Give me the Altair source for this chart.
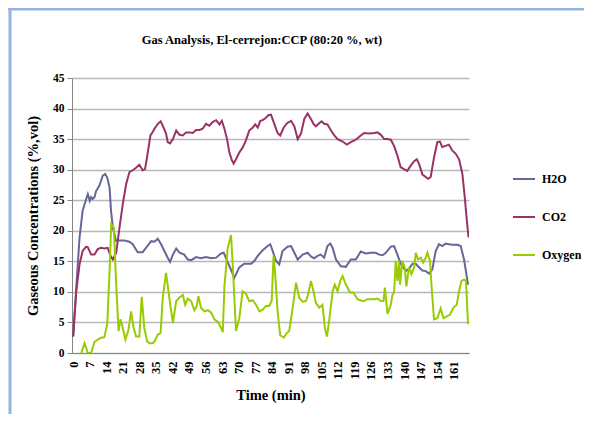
import altair as alt
import pandas as pd

chart_title = "Gas Analysis, El-cerrejon:CCP (80:20 %, wt)"
series_names = ["H2O", "CO2", "Oxygen"]
series_colors = ["#666699", "#993366", "#99CC00"]

x_ticks = list(range(0, 162, 7))
y_ticks = [0, 5, 10, 15, 20, 25, 30, 35, 40, 45]

h2o_t = [0, 1.3, 2.7, 4, 5.5, 6.2, 7, 7.6, 8.3, 9, 9.7, 11.1, 12.5, 13.5, 14.4, 15.4, 16, 16.8,
         18.2, 19.6, 21.7, 23.8, 25.2, 27.3, 29.4, 30.8, 33, 34.4, 35.8, 37.2, 38.6, 40, 41, 42.2,
         43.6, 45, 47, 48.5, 50, 52, 54, 56.2, 58.4, 60.5, 62.6, 63.7, 65.1, 66.8, 68.2, 70.3,
         72.4, 75.3, 76.7, 78.1, 80.2, 82.3, 83.4, 84.4, 85.8, 87.2, 88.6, 90.7, 92.2, 93.6, 95,
         97.1, 99.2, 100.6, 102, 103.4, 104.8, 106.2, 107.6, 108.8, 109.8, 111.2, 113.3, 115.4,
         117.5, 119.6, 121.7, 123.8, 126, 128, 129.5, 130.9, 132.3, 134.4, 135.8, 137.2, 138.6,
         140.7, 142.1, 143.6, 145, 146.4, 147.8, 149.2, 150.6, 152, 153.4, 154.8, 156.2, 157.6,
         159, 160.5, 162.6, 164, 165.4, 167.1]
h2o_v = [2.7, 10.7, 18.9, 23.3, 25.2, 26.0, 24.9, 25.5, 25.2, 25.5, 26.5, 27.4, 29.0, 29.3, 28.7,
         27.1, 23.3, 20.5, 18.3, 18.4, 18.4, 18.2, 17.8, 16.5, 16.5, 17.2, 18.3, 18.2, 18.7, 17.8,
         16.7, 15.6, 14.9, 16.1, 17.1, 16.4, 16.1, 15.3, 15.2, 15.7, 15.5, 15.7, 15.5, 15.6, 16.3,
         16.4, 15.1, 13.6, 12.3, 14.0, 14.6, 14.6, 15.1, 15.9, 16.8, 17.5, 17.8, 16.7, 15.1, 14.5,
         16.7, 17.4, 17.5, 16.4, 15.3, 16.1, 16.4, 15.8, 15.5, 15.9, 16.1, 15.6, 17.5, 17.9, 17.2,
         15.3, 14.2, 14.1, 15.3, 15.3, 16.6, 16.3, 16.4, 16.4, 16.1, 16.0, 16.4, 17.4, 17.5, 16.1,
         14.6, 13.4, 13.8, 14.6, 14.6, 14.0, 13.5, 13.4, 13.0, 13.7, 16.7, 17.8, 17.5, 17.9, 17.8,
         17.7, 17.7, 17.5, 15.3, 11.2]

co2_t = [0, 1.3, 2.7, 4, 5.5, 6.2, 7.6, 9, 10.4, 11.8, 13.2, 14.6, 15.8, 16.8, 18.2, 19.6, 21,
         22.4, 23.8, 25.2, 26.6, 28, 29.4, 30.4, 31.5, 32.7, 33.7, 34.4, 35.8, 37, 37.9, 39.3, 40,
         41, 42.2, 43.6, 45, 46.4, 47.8, 49.2, 50.6, 52, 53.4, 54.8, 56.2, 57.6, 59, 60.5, 61.9,
         62.9, 64, 65.1, 66.1, 67.1, 67.9, 68.9, 70.3, 71.7, 73.1, 74.5, 76, 77, 78.1, 79.2, 80.2,
         81.6, 82.6, 83.7, 85.1, 86.5, 87.6, 89.1, 90.5, 92.2, 93.6, 95, 96.4, 97.8, 99.2, 100.6,
         101.7, 102.7, 104.1, 105.1, 106.2, 107.6, 109, 110.5, 111.9, 114, 115.8, 117.5, 119.6,
         121.7, 123.1, 125.2, 127.4, 128.8, 130.2, 131.6, 133, 134.4, 135.8, 137.2, 138.6, 140,
         141.4, 142.9, 144.3, 145.4, 146.4, 147.8, 149.2, 150.2, 151.3, 152.7, 154.1, 155.2,
         156.2, 157.6, 159, 160.5, 161.9, 163.3, 164.7, 165.7, 166.6, 167.3]
co2_v = [2.7, 10.1, 14.5, 16.7, 17.4, 17.3, 16.1, 16.1, 17.0, 17.2, 17.1, 17.2, 15.9, 15.3, 16.4,
         20.5, 24.4, 27.6, 29.6, 29.9, 30.3, 30.8, 29.9, 30.1, 32.6, 35.6, 36.2, 36.7, 37.5, 37.9,
         37.2, 35.9, 34.5, 34.3, 35.0, 36.4, 35.7, 35.6, 36.1, 36.1, 36.0, 36.5, 36.5, 36.7, 37.5,
         37.2, 37.8, 38.1, 37.4, 38.0, 36.7, 35.0, 32.8, 31.6, 31.0, 31.7, 32.8, 33.6, 34.8, 36.4,
         36.9, 37.4, 36.9, 38.0, 38.1, 38.5, 38.9, 39.0, 37.5, 36.0, 35.6, 36.9, 37.6, 38.0, 37.1,
         35.0, 35.9, 38.3, 39.2, 38.3, 37.5, 37.1, 37.6, 37.9, 37.5, 37.4, 36.5, 35.6, 35.0, 34.6,
         34.1, 34.5, 34.9, 35.6, 36.0, 35.9, 36.0, 36.1, 35.7, 35.0, 35.0, 34.9, 33.9, 32.3, 30.4,
         30.1, 29.8, 30.7, 31.4, 31.7, 30.9, 29.2, 28.8, 28.5, 28.8, 32.0, 34.5, 34.6, 33.7, 33.9,
         34.1, 33.1, 32.6, 31.7, 29.3, 25.5, 21.6, 18.9]

oxy_t = [3.4, 4.8, 6.2, 7.6, 9, 10.4, 11.8, 13.2, 14.4, 15.4, 16.1, 17.2, 18.2, 19.2, 20, 21,
         22.1, 23.4, 24.5, 25.6, 26.6, 28, 29, 30.1, 31.3, 32.3, 33.7, 34.4, 35.8, 37, 37.9, 39.3,
         40.7, 42.2, 43.6, 45, 46.4, 47.4, 48.5, 49.9, 51.3, 52.3, 53, 54.1, 55.5, 57, 58.4, 59.8,
         61.2, 62.6, 63.3, 64, 65.4, 66.8, 67.5, 68.9, 70.3, 71.7, 73.1, 74.5, 76, 77.4, 78.8, 80.2,
         81.6, 83, 84, 84.8, 85.4, 86.5, 87.6, 89.1, 90.5, 91.4, 92.9, 94.3, 95.7, 97.1, 98.5, 99.5,
         100.6, 101.7, 102.7, 104.1, 105.5, 106.5, 107.4, 108.3, 109.8, 110.7, 111.9, 113, 114,
         115.4, 117.2, 118.6, 120.3, 121.7, 123.1, 124.5, 126, 127.4, 128.8, 130.2, 131.3, 131.9,
         133, 134.4, 135.1, 135.8, 136.5, 137.2, 137.9, 138.3, 139.3, 140.3, 141, 142.1, 143.1,
         144.3, 145, 145.9, 147.1, 148.1, 149.2, 149.9, 151, 151.6, 152.7, 154.1, 155.5, 156.7,
         158.1, 159.5, 160.9, 162.3, 163.3, 164.3, 165.4, 166.2, 167.1]
oxy_v = [0, 1.6, 0, 0, 1.8, 2.2, 2.5, 2.6, 4.7, 13.4, 21.1, 20.5, 11.2, 3.6, 5.5, 4.1, 2.2, 3.8,
         6.8, 4.1, 2.7, 2.7, 9.2, 4.1, 1.9, 1.6, 1.6, 1.9, 3.0, 3.3, 9.0, 13.1, 9.0, 4.9, 8.5, 9.1,
         9.5, 7.9, 8.9, 8.5, 7.0, 7.7, 9.3, 7.4, 6.8, 7.0, 6.6, 5.5, 5.1, 4.1, 3.4, 10.9, 17.2, 19.3,
         14.5, 3.6, 5.7, 10.1, 9.7, 8.5, 8.6, 7.9, 6.8, 7.1, 7.7, 7.7, 8.5, 15.9, 13.4, 6.8, 2.9,
         2.5, 3.3, 3.6, 7.4, 11.5, 9.0, 8.4, 8.5, 9.7, 11.8, 10.1, 8.2, 7.4, 7.9, 4.1, 2.7, 5.2,
         10.1, 11.2, 10.1, 11.8, 12.6, 11.2, 9.9, 9.9, 8.8, 8.6, 8.5, 8.8, 8.8, 8.8, 8.9, 8.5, 8.5,
         10.7, 6.4, 7.9, 9.5, 9.9, 15.1, 11.8, 15.1, 11.2, 15.1, 14.0, 10.9, 14.0, 12.9, 14.0, 16.4,
         15.3, 15.6, 14.8, 15.6, 16.4, 15.1, 11.2, 5.5, 5.7, 7.3, 5.7, 6.0, 6.3, 7.4, 7.9, 10.1,
         11.8, 12.0, 11.8, 4.7]

frames = []
for name, ts, vs in [("H2O", h2o_t, h2o_v), ("CO2", co2_t, co2_v), ("Oxygen", oxy_t, oxy_v)]:
    frames.append(pd.DataFrame({"t": ts, "v": vs, "series": name}))
df = pd.concat(frames, ignore_index=True)

FONT = "Liberation Serif"

lines = alt.Chart(df).mark_line(strokeWidth=2, clip=True).encode(
    x=alt.X("t:Q",
            scale=alt.Scale(domain=[-0.5, 167.5], nice=False, zero=False),
            axis=alt.Axis(values=x_ticks, title="Time (min)", labelAngle=270, ticks=False,
                          grid=False, labelPadding=8, labelFont=FONT, labelFontSize=12.5,
                          labelFontWeight="bold", labelColor="black", titleFont=FONT,
                          titleFontSize=14.5, titleFontWeight="bold", titleColor="black",
                          titlePadding=9, domainColor="#868686", labelOverlap=False,
                          labelFlush=False)),
    y=alt.Y("v:Q",
            scale=alt.Scale(domain=[0, 45], nice=False),
            axis=alt.Axis(values=y_ticks, title="Gaseous Concentrations (%,vol)",
                          tickSize=5, tickColor="#868686", grid=True, gridColor="#b8b8b8",
                          gridWidth=1.5, labelPadding=3, labelFont=FONT, labelFontSize=11.5,
                          labelFontWeight="bold", labelColor="black", titleFont=FONT,
                          titleFontSize=14.5, titleFontWeight="bold", titleColor="black",
                          titlePadding=12, domainColor="#868686")),
    color=alt.Color("series:N",
                    scale=alt.Scale(domain=series_names, range=series_colors),
                    legend=alt.Legend(title=None, orient="none", legendX=440, legendY=89,
                                      symbolType="stroke", symbolSize=484, symbolStrokeWidth=2,
                                      labelFont=FONT, labelFontSize=12, labelFontWeight="bold",
                                      labelColor="black", rowPadding=20, labelOffset=6,
                                      padding=0)),
    order="t:Q",
)

frame_src = pd.DataFrame({"k": [0]})
frame_left = alt.Chart(frame_src).mark_rule(color="#95B3E0", strokeWidth=3).encode(
    x=alt.value(-62), y=alt.value(-70), y2=alt.value(336))
frame_top = alt.Chart(frame_src).mark_rule(color="#95B3E0", strokeWidth=3).encode(
    x=alt.value(-64), x2=alt.value(512), y=alt.value(-69))
title_text = alt.Chart(frame_src).mark_text(
    text=chart_title, font=FONT, fontSize=12.5, fontWeight="bold", color="black",
    align="center", baseline="middle").encode(x=alt.value(190), y=alt.value(-38))

chart = alt.layer(lines, frame_left, frame_top, title_text).properties(
    width=397,
    height=275,
    autosize="none",
    padding={"left": 64, "top": 70, "right": 115, "bottom": 61},
).configure_view(stroke="transparent")

chart.save("out.html", embed_options={"renderer": "svg", "actions": False})
